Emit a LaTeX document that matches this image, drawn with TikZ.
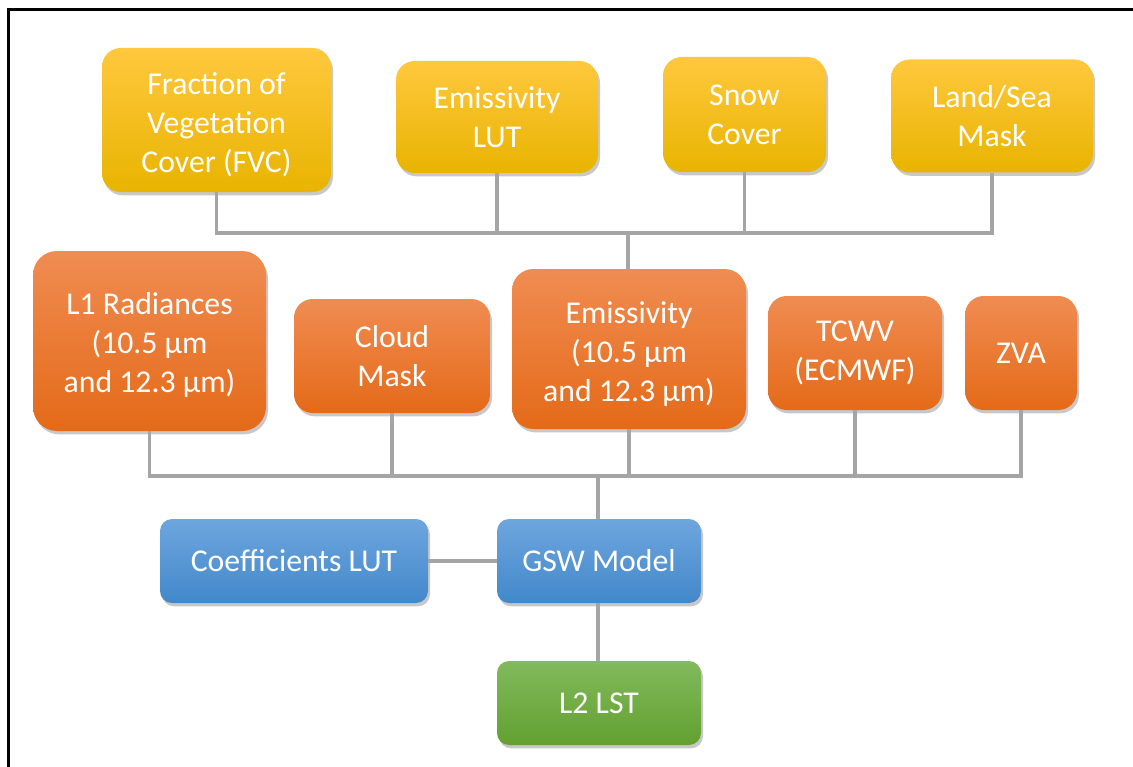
\documentclass[tikz,border=0pt]{standalone}
\usepackage{fontspec}
\setmainfont{Carlito}
\usetikzlibrary{shadows}
\definecolor{ytop}{RGB}{255,200,62}
\definecolor{ymid}{RGB}{252,196,0}
\definecolor{ybot}{RGB}{232,180,0}
\definecolor{otop}{RGB}{240,140,82}
\definecolor{omid}{RGB}{242,122,40}
\definecolor{obot}{RGB}{228,106,24}
\definecolor{btop}{RGB}{110,166,222}
\definecolor{bmid}{RGB}{88,152,214}
\definecolor{bbot}{RGB}{66,136,202}
\definecolor{gtop}{RGB}{130,186,92}
\definecolor{gmid}{RGB}{112,174,64}
\definecolor{gbot}{RGB}{98,160,48}
\definecolor{conncol}{RGB}{165,165,165}
\tikzset{
  boxbase/.style={rectangle, align=center, text=white, inner sep=2pt,
    font=\fontsize{23.8}{29.3}\selectfont,
    drop shadow={shadow xshift=1.5pt, shadow yshift=-2.5pt, opacity=0.3, fill=black!70}},
  ybox/.style={boxbase, rounded corners=14pt, top color=ytop, middle color=ymid, bottom color=ybot},
  obox/.style={boxbase, rounded corners=14pt, top color=otop, middle color=omid, bottom color=obot},
  bbox/.style={boxbase, rounded corners=9pt, top color=btop, middle color=bmid, bottom color=bbot},
  gbox/.style={boxbase, rounded corners=9pt, top color=gtop, middle color=gmid, bottom color=gbot},
  lowtext/.style={align=center, text=white, inner sep=0pt,
    font=\fontsize{23.8}{29.3}\selectfont, yshift=-3.8pt},
  conn/.style={draw=conncol, line width=2.6pt}
}
\begin{document}
\begin{tikzpicture}[x=0.75pt, y=-0.75pt]
\useasboundingbox (0,0) rectangle (1133,767);
\fill[white] (0,0) rectangle (1133,767);
\draw[line width=2.2pt] (8.5,800) -- (8.5,9.5) -- (1200,9.5);

% top row
\node[ybox, minimum width=229*0.75pt, minimum height=144*0.75pt,
  label={[lowtext]center:{Fraction of\\Vegetation\\Cover (FVC)}}] (fvc) at (216.5,120) {};
\node[ybox, minimum width=202*0.75pt, minimum height=112*0.75pt] (elut) at (497,117) {Emissivity\\LUT};
\node[ybox, minimum width=163*0.75pt, minimum height=115*0.75pt] (snow) at (744.5,114.5) {Snow\\Cover};
\node[ybox, minimum width=202*0.75pt, minimum height=113*0.75pt] (land) at (992,116) {Land/Sea\\Mask};

% middle row
\node[obox, minimum width=233*0.75pt, minimum height=180*0.75pt, rounded corners=18pt,
  label={[lowtext, yshift=0.8pt]center:{L1 Radiances\\(10.5 µm\\and 12.3 µm)}}] (l1) at (149.5,341) {};
\node[obox, minimum width=196*0.75pt, minimum height=114*0.75pt] (cloud) at (392,356) {Cloud\\Mask};
\node[obox, minimum width=234*0.75pt, minimum height=160*0.75pt, rounded corners=16pt,
  label={[lowtext]center:{Emissivity\\(10.5 µm\\and 12.3 µm)}}] (emis) at (629,349) {};
\node[obox, minimum width=174*0.75pt, minimum height=114*0.75pt] (tcwv) at (855,353) {TCWV\\(ECMWF)};
\node[obox, minimum width=112*0.75pt, minimum height=114*0.75pt] (zva) at (1021,353) {ZVA};

% bottom
\node[bbox, minimum width=268*0.75pt, minimum height=84*0.75pt] (coef) at (294,561) {Coefficients LUT};
\node[bbox, minimum width=204*0.75pt, minimum height=84*0.75pt] (gsw) at (599,561) {GSW Model};
\node[gbox, minimum width=204*0.75pt, minimum height=84*0.75pt] (l2) at (599,703) {L2 LST};

% connectors
\coordinate (tb) at (628,233);
\coordinate (bb) at (598,476);
\path[conn] (fvc.south) |- (tb);
\path[conn] (land.south) |- (tb);
\path[conn] (elut.south) -- (elut.south |- tb);
\path[conn] (snow.south) -- (snow.south |- tb);
\path[conn] (tb) -- (emis.north -| tb);
\path[conn] (l1.south) |- (bb);
\path[conn] (zva.south) |- (bb);
\path[conn] (cloud.south) -- (cloud.south |- bb);
\path[conn] (emis.south) -- (emis.south |- bb);
\path[conn] (tcwv.south) -- (tcwv.south |- bb);
\path[conn] (bb) -- (gsw.north -| bb);
\path[conn] (coef.east) -- (gsw.west);
\path[conn] (gsw.south -| bb) -- (l2.north -| bb);
\end{tikzpicture}
\end{document}
